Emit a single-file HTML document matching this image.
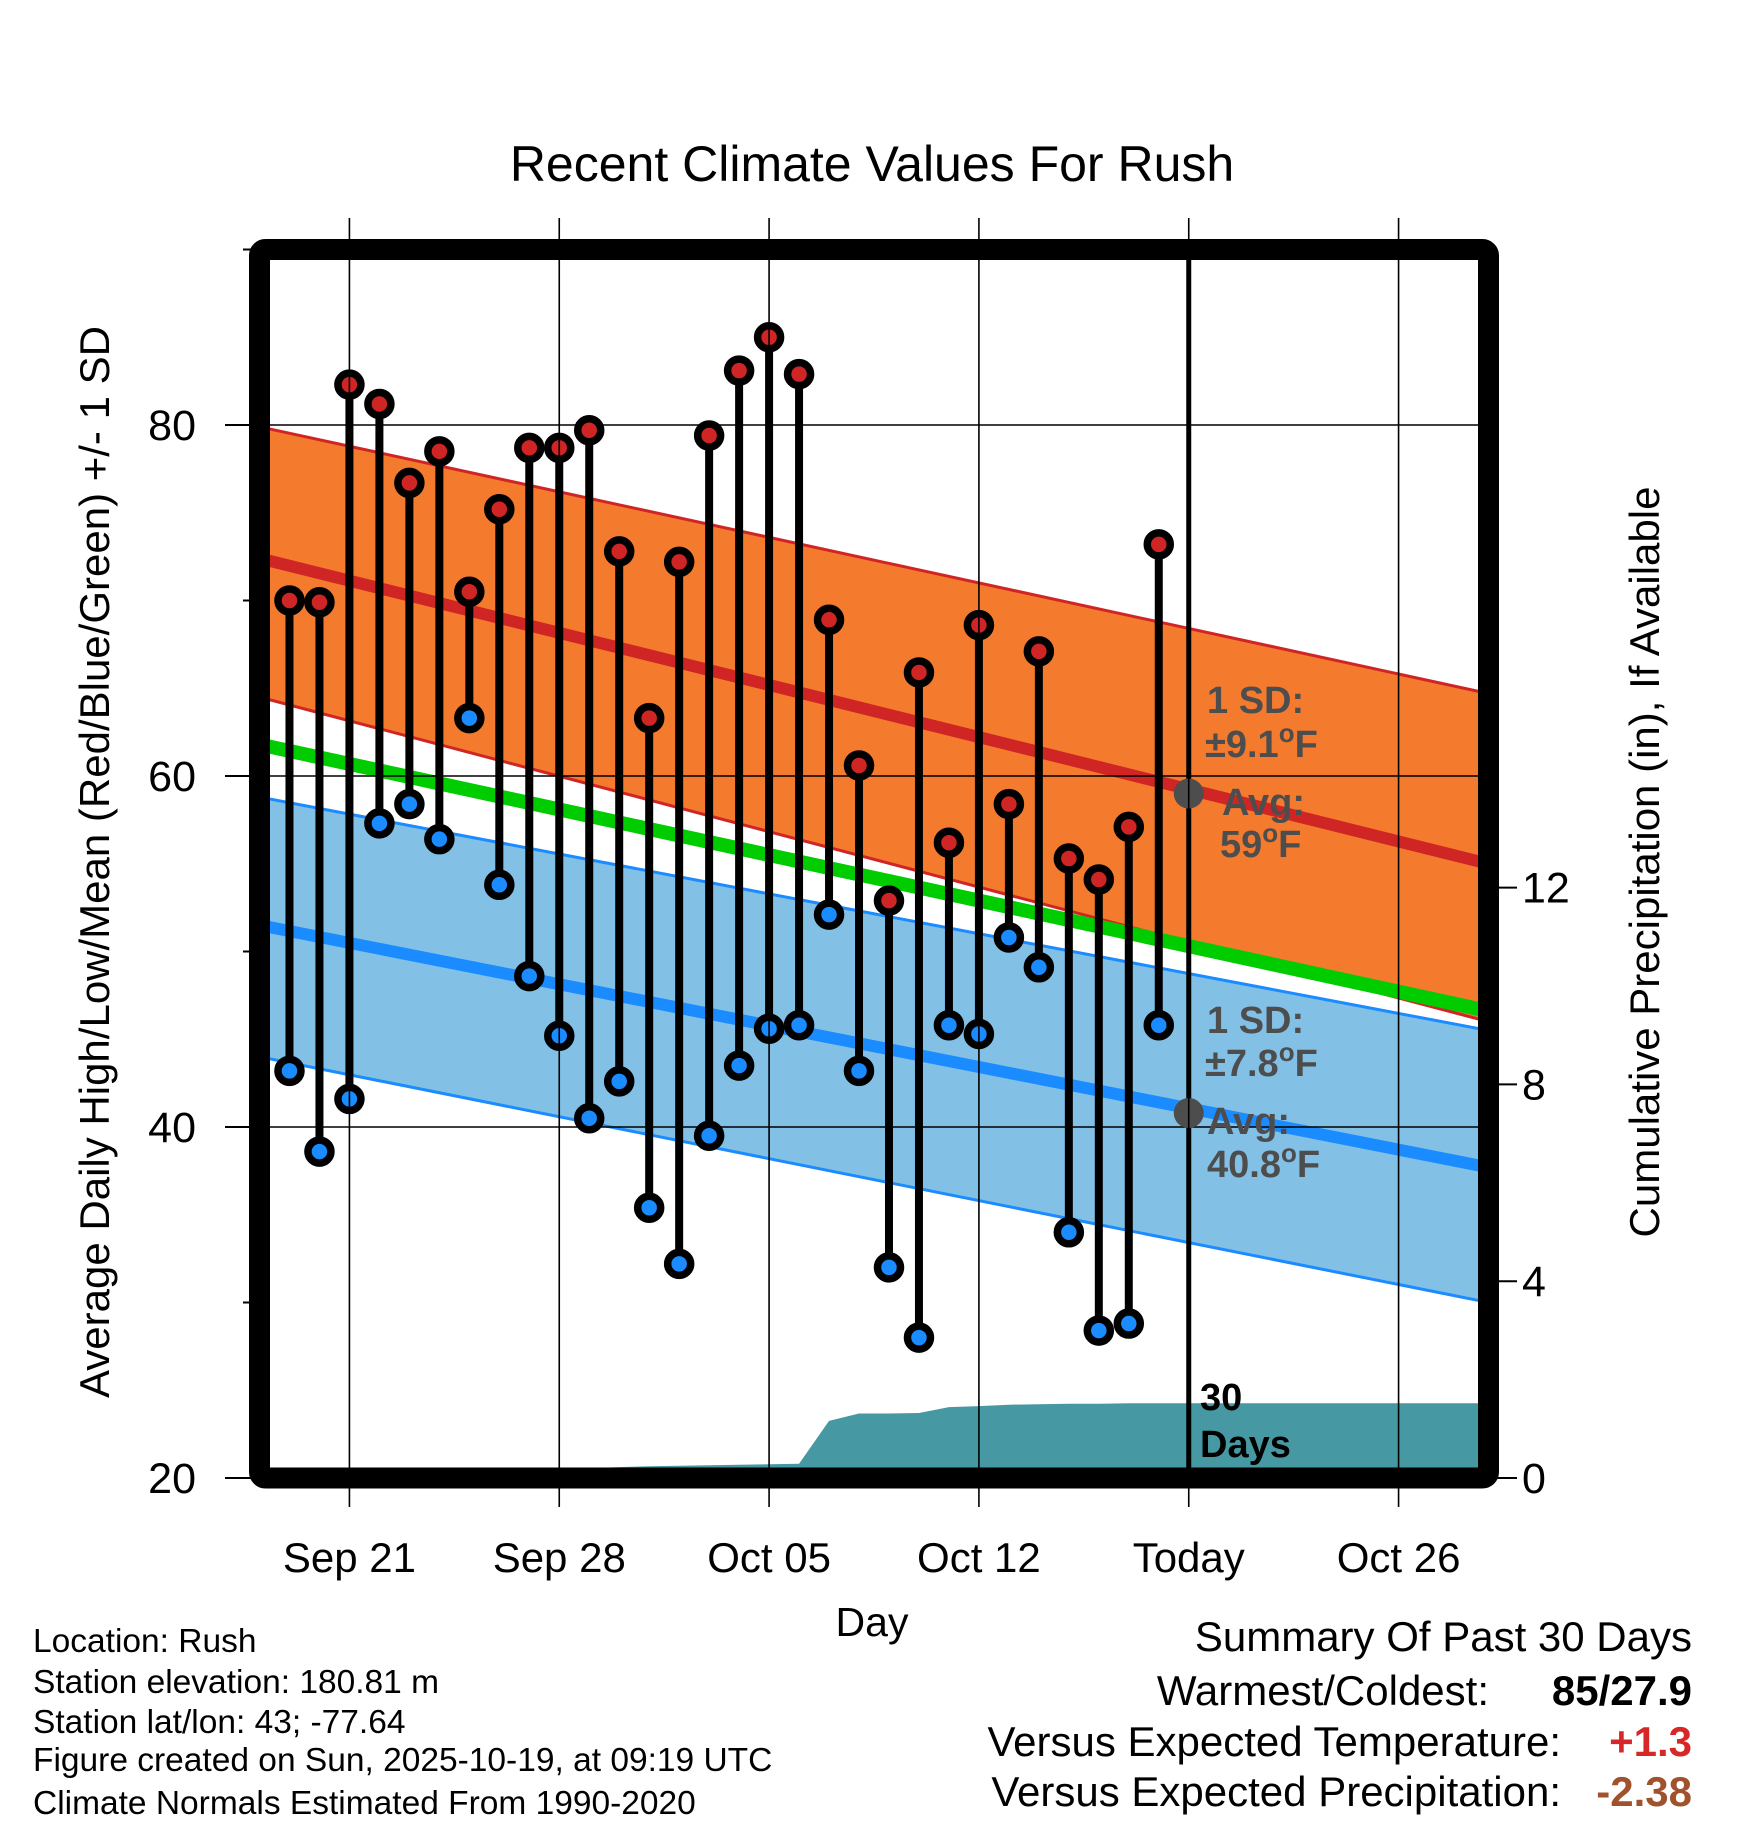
<!DOCTYPE html>
<html><head><meta charset="utf-8"><style>
html,body{margin:0;padding:0;background:#fff}
svg{display:block;font-family:"Liberation Sans",Arial,sans-serif}
</style></head><body>
<svg id="chart" width="1748" height="1828" viewBox="0 0 1748 1828" xmlns="http://www.w3.org/2000/svg">
<text x="872" y="181" font-size="50" text-anchor="middle">Recent Climate Values For Rush</text>
<text transform="translate(109,862) rotate(-90)" font-size="42" text-anchor="middle">Average Daily High/Low/Mean (Red/Blue/Green) +/- 1 SD</text>
<text transform="translate(1659,862) rotate(-90)" font-size="42" text-anchor="middle">Cumulative Precipitation (in), If Available</text>
<text x="872" y="1636" font-size="41" text-anchor="middle">Day</text>
<g font-size="33.5">
<text x="33" y="1652">Location: Rush</text>
<text x="33" y="1693">Station elevation: 180.81 m</text>
<text x="33" y="1733">Station lat/lon: 43; -77.64</text>
<text x="33" y="1771">Figure created on Sun, 2025-10-19, at 09:19 UTC</text>
<text x="33" y="1814">Climate Normals Estimated From 1990-2020</text>
</g>
<g font-size="42">
<text x="1692" y="1651" text-anchor="end">Summary Of Past 30 Days</text>
<text x="1489" y="1705" text-anchor="end">Warmest/Coldest:</text>
<text x="1692" y="1705" text-anchor="end" font-weight="bold">85/27.9</text>
<text x="1561" y="1756" text-anchor="end">Versus Expected Temperature:</text>
<text x="1692" y="1756" text-anchor="end" font-weight="bold" fill="#d62828">+1.3</text>
<text x="1561" y="1806" text-anchor="end">Versus Expected Precipitation:</text>
<text x="1692" y="1806" text-anchor="end" font-weight="bold" fill="#a0522d">-2.38</text>
</g>
<defs><clipPath id="plotclip"><rect x="260" y="250" width="1228" height="1228"/></clipPath></defs>
<g id="plot" clip-path="url(#plotclip)"></g>
<g id="over"></g>
</svg>
<script>
// ---- data ----
const days = ["Sep19","Sep20","Sep21","Sep22","Sep23","Sep24","Sep25","Sep26","Sep27","Sep28","Sep29","Sep30","Oct01","Oct02","Oct03","Oct04","Oct05","Oct06","Oct07","Oct08","Oct09","Oct10","Oct11","Oct12","Oct13","Oct14","Oct15","Oct16","Oct17","Oct18"];
const highs = [70.0,69.9,82.3,81.2,76.7,78.5,70.5,75.2,78.7,78.7,79.7,72.8,63.3,72.2,79.4,83.1,85.0,82.9,68.9,60.6,52.9,65.9,56.2,68.6,58.4,67.1,55.3,54.1,57.1,73.2];
const lows = [43.2,38.6,41.6,57.3,58.4,56.4,63.3,53.8,48.6,45.2,40.5,42.6,35.4,32.2,39.5,43.5,45.6,45.8,52.1,43.2,32.0,28.0,45.8,45.3,50.8,49.1,34.0,28.4,28.8,45.8];
const precip = [0.1,0.1,0.1,0.1,0.1,0.1,0.1,0.1,0.1,0.1,0.2,0.22,0.24,0.25,0.26,0.27,0.28,0.29,1.16,1.31,1.31,1.32,1.44,1.46,1.49,1.5,1.51,1.51,1.52,1.52];
// normals at start (Sep18) and end (Oct29)
const normHighMean = [72.4,55.0];
const normHighUpper = [79.9,64.7];
const normHighLower = [64.5,46.0];
const normLowMean = [51.5,37.7];
const normLowUpper = [58.8,45.5];
const normLowLower = [44.0,30.0];
const normAvg = [61.8,46.6];
const yTicks = [20,40,60,80];
const yMinor = [30,50,70,90];
const y2Ticks = [0,4,8,12];
const xTickDays = [3,10,17,24,31,38]; // days after Sep18
const xTickLabels = ["Sep 21","Sep 28","Oct 05","Oct 12","Today","Oct 26"];
const todayIdx = 31;
const todayHigh = 59, todayLow = 40.8;

// ---- axes ----
const X0=259.5, X1=1488.5, DAYSPAN=41;
const x = d => X0 + (X1-X0)*d/DAYSPAN;
const y = v => 1478 - (v-20)*(1478-249.5)/70;
const y2 = p => 1478 - p*49.2;
const NS="http://www.w3.org/2000/svg";
const plot=document.getElementById('plot'), over=document.getElementById('over');
function mk(tag, attrs, parent){const e=document.createElementNS(NS,tag);for(const k in attrs)e.setAttribute(k,attrs[k]);parent.appendChild(e);return e;}
function bandPath(up,lo){return `M${x(0)},${y(up[0])} L${x(DAYSPAN)},${y(up[1])} L${x(DAYSPAN)},${y(lo[1])} L${x(0)},${y(lo[0])} Z`;}

let e=mk('path',{d:bandPath(normLowUpper,normLowLower),fill:'#82c0e6',stroke:'#1a8cff','stroke-width':3},plot);

e=mk('line',{x1:x(0),y1:y(normLowMean[0]),x2:x(DAYSPAN),y2:y(normLowMean[1]),stroke:'#1a8cff','stroke-width':12},plot);

e=mk('path',{d:bandPath(normHighUpper,normHighLower),fill:'#f47a2e',stroke:'#d02525','stroke-width':3},plot);

e=mk('line',{x1:x(0),y1:y(normHighMean[0]),x2:x(DAYSPAN),y2:y(normHighMean[1]),stroke:'#d02525','stroke-width':12},plot);

e=mk('line',{x1:x(0),y1:y(normAvg[0]),x2:x(DAYSPAN),y2:y(normAvg[1]),stroke:'#00cc00','stroke-width':14},plot);


// precipitation area
let pd=`M${x(0)},${y2(0)} L${x(0)},${y2(precip[0])}`;
precip.forEach((p,i)=>{pd+=` L${x(i+1)},${y2(p)}`;});
pd+=` L${x(DAYSPAN)},${y2(precip[precip.length-1])} L${x(DAYSPAN)},${y2(0)} Z`;
e=mk('path',{d:pd,fill:'#4699a3'},plot);


// gridlines
yTicks.forEach(v=>{const g=mk('line',{x1:X0,x2:X1,y1:y(v),y2:y(v),stroke:'#000','stroke-width':1.6},plot);
});
xTickDays.forEach(d=>{const g=mk('line',{x1:x(d),x2:x(d),y1:218,y2:1507,stroke:'#000','stroke-width':1.6},over);
});
e=mk('line',{x1:x(todayIdx),x2:x(todayIdx),y1:250,y2:1478,stroke:'#000','stroke-width':5},plot);


// stems & points
days.forEach((d,i)=>{
  const cx=x(i+1);
  const s=mk('line',{x1:cx,x2:cx,y1:y(highs[i]),y2:y(lows[i]),stroke:'#000','stroke-width':8},plot);
  
});
days.forEach((d,i)=>{
  const cx=x(i+1);
  const h=mk('circle',{cx:cx,cy:y(highs[i]),r:11.5,fill:'#d02525',stroke:'#000','stroke-width':7.5},plot);
  
  const l=mk('circle',{cx:cx,cy:y(lows[i]),r:11.5,fill:'#1a8cff',stroke:'#000','stroke-width':7.5},plot);
  
});
e=mk('circle',{cx:x(todayIdx),cy:y(todayHigh),r:15,fill:'#4d4d4d'},plot);

e=mk('circle',{cx:x(todayIdx),cy:y(todayLow),r:15,fill:'#4d4d4d'},plot);


// annotations: [main, superscript, suffix, x, y]
const ann=[["1 SD:","","",1207,713],["±9.1","o","F",1205,757],["Avg:","","",1222,815],["59","o","F",1220,857],["1 SD:","","",1207,1033],["±7.8","o","F",1205,1076],["Avg:","","",1207,1134],["40.8","o","F",1207,1177]];
ann.forEach(a=>{const t=mk('text',{x:a[3],y:a[4],'font-size':38,'font-weight':'bold',fill:'#4d4d4d'},plot);

t.appendChild(document.createTextNode(a[0]));
if(a[1]){const s=mk('tspan',{dy:-15,'font-size':26},t);s.textContent=a[1];const f=mk('tspan',{dy:15},t);f.textContent=a[2];}
});
[["30",1200,1410],["Days",1200,1457]].forEach(a=>{const t=mk('text',{x:a[1],y:a[2],'font-size':38,'font-weight':'bold',fill:'#000'},plot);t.textContent=a[0];
});

// frame
e=mk('rect',{x:X0,y:249.5,width:X1-X0,height:1478-249.5,fill:'none',stroke:'#000','stroke-width':21,rx:6},over);


// ticks
yTicks.forEach(v=>{
  const t=mk('line',{x1:225,x2:X0,y1:y(v),y2:y(v),stroke:'#000','stroke-width':2},over);
  
  const l=mk('text',{x:196,y:y(v)+15,'font-size':43,'text-anchor':'end'},over);l.textContent=v;
  
});
yMinor.forEach(v=>{const t=mk('line',{x1:243,x2:X0,y1:y(v),y2:y(v),stroke:'#000','stroke-width':2},over);
  });
y2Ticks.forEach(p=>{
  const t=mk('line',{x1:X1,x2:1517,y1:y2(p),y2:y2(p),stroke:'#000','stroke-width':2},over);
  
  const l=mk('text',{x:1522,y:y2(p)+15,'font-size':43},over);l.textContent=p;
  
});
xTickDays.forEach((d,i)=>{
  const l=mk('text',{x:x(d),y:1572,'font-size':42,'text-anchor':'middle'},over);l.textContent=xTickLabels[i];
  
});
</script>
</body></html>
